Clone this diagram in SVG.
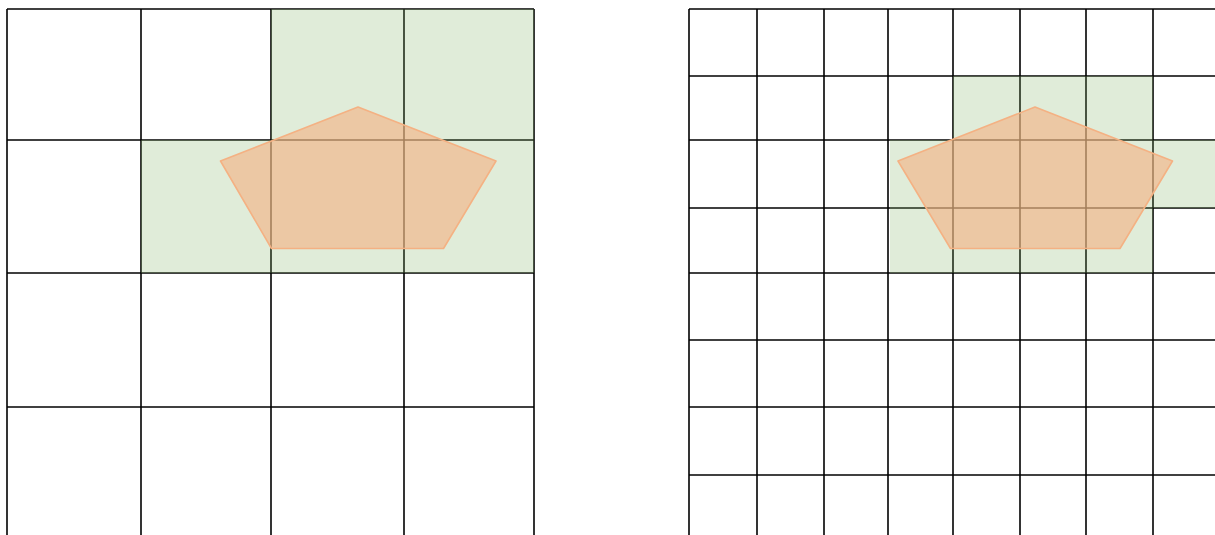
<svg xmlns="http://www.w3.org/2000/svg" width="1215" height="535" viewBox="0 0 1215 535">
<style>
.grid line{stroke:#000;stroke-width:1.6;}
.cell{fill:#82b366;fill-opacity:0.25;stroke:none;}
.pent{fill:#f4b183;fill-opacity:0.62;stroke:#f4b183;stroke-width:1.6;stroke-linejoin:round;}
</style>
<rect width="1215" height="535" fill="#fff"/>
<g id="left-grid" class="grid">
<line x1="7" y1="9" x2="7" y2="535"/>
<line x1="141" y1="9" x2="141" y2="535"/>
<line x1="271" y1="9" x2="271" y2="535"/>
<line x1="404" y1="9" x2="404" y2="535"/>
<line x1="534" y1="9" x2="534" y2="535"/>
<line x1="7" y1="9" x2="534" y2="9"/>
<line x1="7" y1="140" x2="534" y2="140"/>
<line x1="7" y1="273" x2="534" y2="273"/>
<line x1="7" y1="407" x2="534" y2="407"/>
</g>
<g id="right-grid" class="grid">
<line x1="689" y1="9" x2="689" y2="535"/>
<line x1="757" y1="9" x2="757" y2="535"/>
<line x1="824" y1="9" x2="824" y2="535"/>
<line x1="888" y1="9" x2="888" y2="535"/>
<line x1="953" y1="9" x2="953" y2="535"/>
<line x1="1020" y1="9" x2="1020" y2="535"/>
<line x1="1086" y1="9" x2="1086" y2="535"/>
<line x1="1153" y1="9" x2="1153" y2="535"/>
<line x1="689" y1="9" x2="1215" y2="9"/>
<line x1="689" y1="76" x2="1215" y2="76"/>
<line x1="689" y1="140" x2="1215" y2="140"/>
<line x1="689" y1="208" x2="1215" y2="208"/>
<line x1="689" y1="273" x2="1215" y2="273"/>
<line x1="689" y1="340" x2="1215" y2="340"/>
<line x1="689" y1="407" x2="1215" y2="407"/>
<line x1="689" y1="475" x2="1215" y2="475"/>
</g>
<g id="left-cells">
<path class="cell" d="M271 9H534V273H141V140H271Z"/>
</g>
<g id="right-cells">
<path class="cell" d="M953 76H1153V140H1215V208H1153V273H890V140H953Z"/>
</g>
<g id="left-pentagon">
<polygon class="pent" points="358,107 496,161 443.5,248.5 271.5,248.5 220.5,161"/>
</g>
<g id="right-pentagon">
<polygon class="pent" points="1035,107 1172.5,161 1120,248.5 950.5,248.5 898,161"/>
</g>
</svg>
